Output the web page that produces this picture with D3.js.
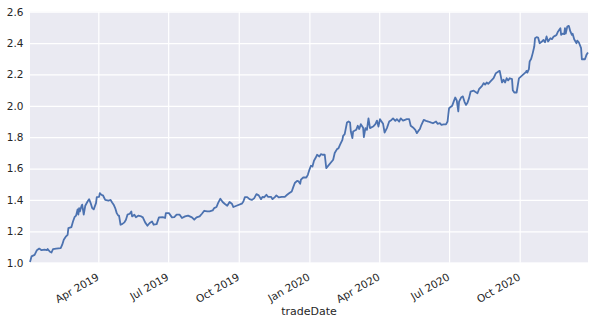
<!DOCTYPE html>
<html>
<head>
<meta charset="utf-8">
<script src="https://cdn.jsdelivr.net/npm/d3@7"></script>
<style>
  html, body { margin: 0; padding: 0; background: #ffffff; }
  svg { display: block; }
  text { font-family: "DejaVu Sans", sans-serif; fill: #262626; }
</style>
</head>
<body>
<svg id="chart" width="595" height="324"></svg>
<script>
// Cumulative net value by trade date
const tradeDates = [
  "2019-01-02","2019-01-04","2019-01-08","2019-01-11","2019-01-14","2019-01-17","2019-01-21","2019-01-24","2019-01-25","2019-01-28",
  "2019-01-30","2019-02-01","2019-02-05","2019-02-11","2019-02-13","2019-02-15","2019-02-18","2019-02-20","2019-02-21","2019-02-25",
  "2019-02-27","2019-03-01","2019-03-03","2019-03-05","2019-03-06","2019-03-07","2019-03-08","2019-03-10","2019-03-11","2019-03-13",
  "2019-03-15","2019-03-18","2019-03-20","2019-03-22","2019-03-24","2019-03-26","2019-03-29","2019-03-30","2019-04-02","2019-04-03",
  "2019-04-05","2019-04-07","2019-04-10","2019-04-14","2019-04-17","2019-04-19","2019-04-21","2019-04-23","2019-04-25","2019-04-27",
  "2019-04-28","2019-04-30","2019-05-02","2019-05-05","2019-05-07","2019-05-09","2019-05-12","2019-05-14","2019-05-15","2019-05-18",
  "2019-05-20","2019-05-23","2019-05-27","2019-05-29","2019-06-01","2019-06-04","2019-06-07","2019-06-10","2019-06-12","2019-06-16",
  "2019-06-19","2019-06-24","2019-06-27","2019-06-28","2019-07-02","2019-07-06","2019-07-09","2019-07-12","2019-07-16","2019-07-19",
  "2019-07-23","2019-07-27","2019-08-01","2019-08-04","2019-08-07","2019-08-11","2019-08-14","2019-08-17","2019-08-21","2019-08-24",
  "2019-08-28","2019-08-30","2019-09-02","2019-09-04","2019-09-07","2019-09-10","2019-09-13","2019-09-16","2019-09-19","2019-09-22",
  "2019-09-24","2019-09-28","2019-10-05","2019-10-07","2019-10-09","2019-10-12","2019-10-15","2019-10-18","2019-10-21","2019-10-24",
  "2019-10-27","2019-10-30","2019-11-01","2019-11-03","2019-11-06","2019-11-08","2019-11-12","2019-11-14","2019-11-17","2019-11-19",
  "2019-11-22","2019-11-26","2019-11-30","2019-12-03","2019-12-06","2019-12-09","2019-12-11","2019-12-13","2019-12-16","2019-12-18",
  "2019-12-20","2019-12-21","2019-12-24","2019-12-28","2019-12-30","2020-01-01","2020-01-03","2020-01-05","2020-01-07","2020-01-09",
  "2020-01-11","2020-01-14","2020-01-16","2020-01-18","2020-01-21","2020-01-23","2020-02-01","2020-02-03","2020-02-06","2020-02-08",
  "2020-02-10","2020-02-13","2020-02-14","2020-02-16","2020-02-19","2020-02-21","2020-02-23","2020-02-24","2020-02-26","2020-02-27",
  "2020-03-02","2020-03-04","2020-03-06","2020-03-08","2020-03-11","2020-03-12","2020-03-14","2020-03-16","2020-03-18","2020-03-20",
  "2020-03-24","2020-03-27","2020-03-29","2020-03-31","2020-04-02","2020-04-04","2020-04-06","2020-04-08","2020-04-11","2020-04-14",
  "2020-04-17","2020-04-19","2020-04-22","2020-04-24","2020-04-27","2020-04-29","2020-05-02","2020-05-07","2020-05-10","2020-05-12",
  "2020-05-15","2020-05-18","2020-05-20","2020-05-22","2020-05-24","2020-05-26","2020-05-29","2020-06-01","2020-06-04","2020-06-07",
  "2020-06-10","2020-06-14","2020-06-16","2020-06-19","2020-06-21","2020-06-24","2020-06-27","2020-06-29","2020-06-30","2020-07-01",
  "2020-07-05","2020-07-07","2020-07-09","2020-07-11","2020-07-13","2020-07-14","2020-07-17","2020-07-19","2020-07-21","2020-07-23",
  "2020-07-25","2020-07-27","2020-07-29","2020-08-02","2020-08-04","2020-08-07","2020-08-09","2020-08-13","2020-08-15","2020-08-17",
  "2020-08-19","2020-08-21","2020-08-24","2020-08-28","2020-08-31","2020-09-03","2020-09-05","2020-09-08","2020-09-10","2020-09-12",
  "2020-09-14","2020-09-16","2020-09-18","2020-09-21","2020-09-22","2020-09-24","2020-09-27","2020-09-30","2020-10-09","2020-10-10",
  "2020-10-11","2020-10-13","2020-10-14","2020-10-16","2020-10-18","2020-10-20","2020-10-21","2020-10-23","2020-10-25","2020-10-27",
  "2020-10-30","2020-11-01","2020-11-03","2020-11-05","2020-11-07","2020-11-10","2020-11-12","2020-11-14","2020-11-16","2020-11-18",
  "2020-11-20","2020-11-23","2020-11-24","2020-11-26","2020-11-28","2020-11-29","2020-11-30","2020-12-02","2020-12-04","2020-12-06",
  "2020-12-08","2020-12-09","2020-12-11","2020-12-14","2020-12-15","2020-12-17","2020-12-20","2020-12-21","2020-12-23","2020-12-25",
  "2020-12-27","2020-12-29"
];

const navValues = [
  1.005,1.04,1.05,1.08,1.09,1.08,1.083,1.08,1.087,1.07,
  1.065,1.087,1.09,1.093,1.115,1.146,1.168,1.178,1.22,1.227,
  1.263,1.29,1.30,1.34,1.306,1.348,1.327,1.36,1.37,1.306,
  1.363,1.39,1.405,1.38,1.348,1.34,1.38,1.418,1.42,1.444,
  1.433,1.43,1.40,1.395,1.40,1.384,1.37,1.348,1.316,1.30,
  1.30,1.242,1.246,1.257,1.274,1.306,1.312,1.327,1.295,1.306,
  1.29,1.30,1.295,1.289,1.257,1.236,1.253,1.263,1.242,1.246,
  1.289,1.29,1.285,1.316,1.316,1.289,1.29,1.306,1.306,1.285,
  1.295,1.30,1.289,1.274,1.289,1.295,1.312,1.331,1.327,1.327,
  1.333,1.348,1.355,1.38,1.408,1.387,1.374,1.363,1.387,1.376,
  1.355,1.363,1.376,1.39,1.418,1.418,1.405,1.40,1.41,1.437,
  1.429,1.405,1.42,1.416,1.433,1.42,1.42,1.405,1.418,1.429,
  1.416,1.42,1.42,1.433,1.444,1.454,1.482,1.508,1.522,1.518,
  1.503,1.529,1.543,1.543,1.56,1.592,1.618,1.613,1.65,1.667,
  1.688,1.677,1.692,1.688,1.688,1.603,1.656,1.699,1.724,1.73,
  1.752,1.783,1.809,1.82,1.894,1.90,1.894,1.836,1.794,1.836,
  1.847,1.873,1.852,1.883,1.86,1.80,1.858,1.847,1.92,1.858,
  1.868,1.883,1.906,1.868,1.915,1.90,1.885,1.83,1.858,1.90,
  1.91,1.92,1.904,1.915,1.90,1.92,1.906,1.915,1.915,1.873,
  1.862,1.847,1.826,1.84,1.852,1.879,1.91,1.904,1.90,1.894,
  1.889,1.90,1.885,1.889,1.879,1.882,1.882,1.90,1.943,1.985,
  2.0,2.027,2.053,2.034,1.964,2.027,2.055,2.06,2.027,2.006,
  2.02,2.049,2.09,2.097,2.09,2.08,2.106,2.127,2.145,2.135,
  2.149,2.14,2.156,2.176,2.208,2.218,2.223,2.149,2.166,2.149,
  2.176,2.162,2.176,2.17,2.10,2.085,2.085,2.175,2.215,2.223,
  2.212,2.234,2.283,2.30,2.336,2.378,2.431,2.438,2.435,2.399,
  2.41,2.42,2.405,2.442,2.41,2.431,2.425,2.44,2.446,2.452,
  2.474,2.495,2.452,2.46,2.457,2.495,2.46,2.505,2.51,2.474,
  2.452,2.46,2.424,2.399,2.416,2.405,2.368,2.297,2.297,2.297,
  2.325,2.34
];

const yTickValues = [1.0, 1.2, 1.4, 1.6, 1.8, 2.0, 2.2, 2.4, 2.6];
const xTickDates = ["2019-04-01","2019-07-01","2019-10-01","2020-01-01","2020-04-01","2020-07-01","2020-10-01"];
const xTickLabels = ["Apr 2019","Jul 2019","Oct 2019","Jan 2020","Apr 2020","Jul 2020","Oct 2020"];
const xAxisTitle = "tradeDate";

const parseDate = d3.utcParse("%Y-%m-%d");
const series = tradeDates.map((d, i) => ({ date: parseDate(d), value: navValues[i] }));

const margin = { left: 30, right: 7, top: 11.7, bottom: 61.3 };
const width = 595, height = 324;
const plotW = width - margin.left - margin.right;
const plotH = height - margin.top - margin.bottom;

const svg = d3.select("#chart");
const g = svg.append("g").attr("transform", `translate(${margin.left},${margin.top})`);

const x = d3.scaleUtc().domain(d3.extent(series, d => d.date)).range([0, plotW]);
const y = d3.scaleLinear().domain([1.0, 2.6]).range([plotH, 0]);

// Plot background
g.append("rect")
  .attr("width", plotW).attr("height", plotH)
  .attr("fill", "#EAEAF2");

// Horizontal grid + y tick labels
const yAxis = d3.axisLeft(y).tickValues(yTickValues).tickSize(-plotW).tickPadding(6.5)
  .tickFormat(d3.format(".1f"));
const yg = g.append("g").call(yAxis);
yg.select(".domain").remove();
yg.selectAll(".tick line").attr("stroke", "#ffffff").attr("stroke-width", 1.2);
yg.selectAll(".tick text").attr("font-size", 10.5).attr("fill", "#262626")
  .attr("font-family", "DejaVu Sans, sans-serif");

// Vertical grid + rotated date labels
const xAxis = d3.axisBottom(x)
  .tickValues(xTickDates.map(parseDate))
  .tickSize(-plotH)
  .tickFormat((d, i) => xTickLabels[i]);
const xg = g.append("g").attr("transform", `translate(0,${plotH})`).call(xAxis);
xg.select(".domain").remove();
xg.selectAll(".tick line").attr("stroke", "#ffffff").attr("stroke-width", 1.2);
xg.selectAll(".tick text")
  .attr("font-size", 10.5).attr("fill", "#262626")
  .attr("font-family", "DejaVu Sans, sans-serif")
  .attr("text-anchor", "end")
  .attr("dy", null).attr("y", 0)
  .attr("transform", "translate(1,16.5) rotate(-30)");

// Axis title
g.append("text")
  .attr("x", plotW / 2).attr("y", plotH + 52.5)
  .attr("text-anchor", "middle")
  .attr("font-size", 11)
  .text(xAxisTitle);

// Series line
const line = d3.line().x(d => x(d.date)).y(d => y(d.value));
g.append("path")
  .datum(series)
  .attr("fill", "none")
  .attr("stroke", "#4C72B0")
  .attr("stroke-width", 1.8)
  .attr("stroke-linejoin", "round")
  .attr("d", line);
</script>
</body>
</html>
